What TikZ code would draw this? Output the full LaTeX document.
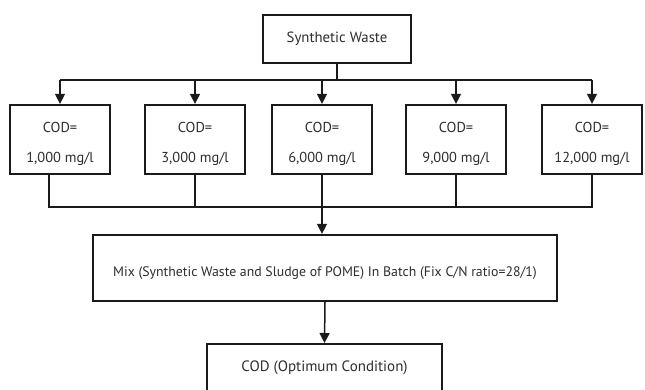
\documentclass[tikz,border=0pt]{standalone}
\usepackage{fontspec}
\setmainfont{PT Sans}
\usepackage{tikz}
\usetikzlibrary{arrows.meta,positioning,calc}
\definecolor{inkline}{HTML}{1A1A1A}
\definecolor{inktext}{HTML}{2E2E2E}
\tikzset{
  fbox/.style={draw=inkline,line width=2.3pt,fill=white,text=inktext,align=center,inner sep=0pt},
  fline/.style={line width=1.5pt,draw=inkline},
  farr/.style={-{Triangle[length=10pt,width=10pt]},line width=1.5pt,draw=inkline}
}

\begin{document}
\begin{tikzpicture}[x=1pt,y=-1pt,font=\fontsize{13.6}{16}\selectfont]
  \useasboundingbox (0,0) rectangle (645,390);
  \coordinate (topbus) at (0,80);
  \coordinate (lowbus) at (0,207);
  % source
  \node[fbox,minimum width=148,minimum height=48,font=\fontsize{14.8}{16}\selectfont] (src) at (337,39) {Synthetic Waste};
  % five COD levels
  \foreach \i/\x/\val in {1/60/{1,000}, 2/195/{3,000}, 3/322/{6,000}, 4/456/{9,000}, 5/592/{12,000}}{
    \node[fbox,minimum width=100,minimum height=69,font=\fontsize{14.4}{30}\selectfont] (c\i) at (\x,139.5) {\rule{0pt}{20pt}COD=\\\val\ mg/l};
    \draw[farr] (c\i.north |- topbus) -- (c\i.north);
  }
  \draw[fline] (src.south) -- (src.south |- topbus);
  \draw[fline] (c1.north |- topbus) -- (c5.north |- topbus);
  % mixing step
  \node[fbox,minimum width=464,minimum height=66,text height=20,text depth=3.4,font=\fontsize{13.8}{16}\selectfont] (mix) at (325,268) {Mix (Synthetic Waste and Sludge of POME) In Batch (Fix C/N ratio=28/1)};
  \draw[fline] ([xshift=-11]c1.south) -- ([xshift=-11]c1.south |- lowbus) -- (c5.south |- lowbus) -- (c5.south);
  \foreach \i in {2,4}{
    \draw[fline] (c\i.south) -- (c\i.south |- lowbus);
  }
  \draw[farr] (c3.south) -- (c3.south |- mix.north);
  % result
  \node[fbox,anchor=north,minimum width=235,inner ysep=17,text depth=40,font=\fontsize{15}{16}\selectfont] (opt) at (324.5,343) {COD (Optimum Condition)};
  \draw[farr] (mix.south) -- (opt.north);
\end{tikzpicture}
\end{document}
